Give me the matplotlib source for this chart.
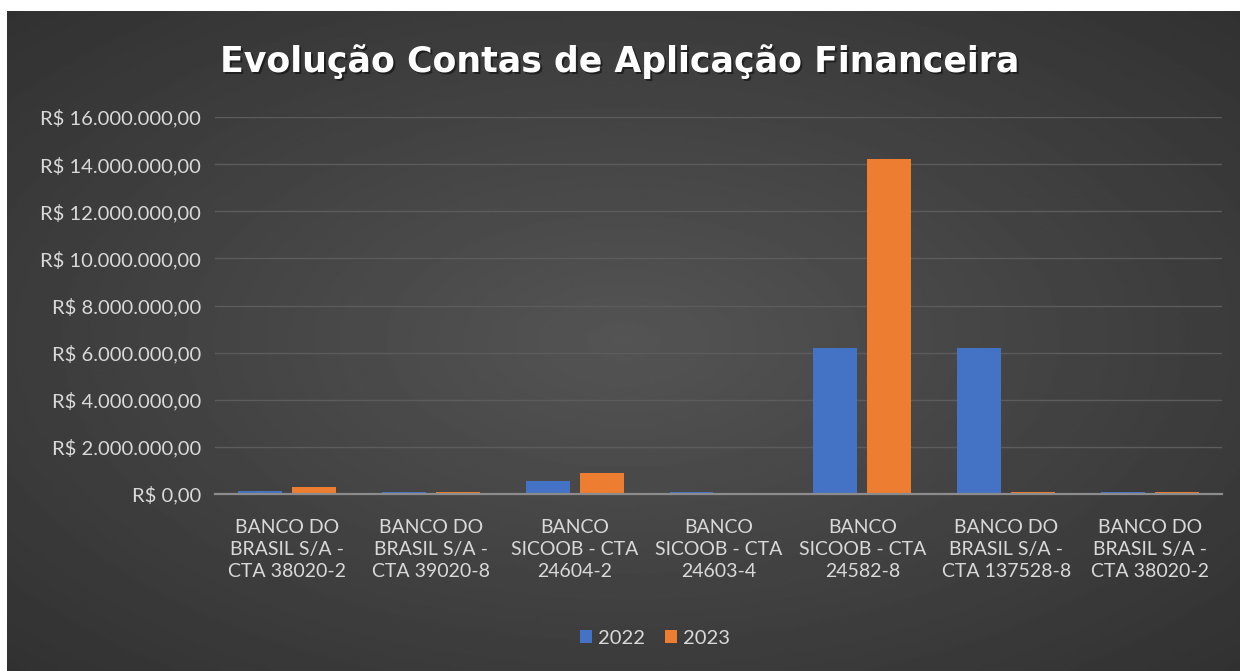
import numpy as np
import matplotlib
matplotlib.use("Agg")
import matplotlib.pyplot as plt
from matplotlib.ticker import FuncFormatter
from matplotlib.transforms import ScaledTranslation

categories = ["BANCO DO\nBRASIL S/A -\nCTA 38020-2",
              "BANCO DO\nBRASIL S/A -\nCTA 39020-8",
              "BANCO\nSICOOB - CTA\n24604-2",
              "BANCO\nSICOOB - CTA\n24603-4",
              "BANCO\nSICOOB - CTA\n24582-8",
              "BANCO DO\nBRASIL S/A -\nCTA 137528-8",
              "BANCO DO\nBRASIL S/A -\nCTA 38020-2"]
v2022 = [110000, 90000, 570000, 90000, 6210000, 6210000, 100000]
v2023 = [290000, 90000, 880000, 0, 14200000, 100000, 100000]
series_names = ["2022", "2023"]
yticks = np.arange(0, 16000001, 2000000)

blue = "#4472C4"
orange = "#ED7D31"
txt = "#d9d9d9"
font = ["Lato", "DejaVu Sans"]

def brl(v, pos=None):
    s = f"{v:,.2f}".replace(",", "X").replace(".", ",").replace("X", ".")
    return "R$ " + s

fig = plt.figure(figsize=(12.4, 6.71), dpi=100)
fig.patch.set_facecolor("white")

# dark radial background of the chart area
bg = fig.add_axes([7 / 1240, 0, 1233 / 1240, 660 / 671])
yy, xx = np.mgrid[-1:1:300j, -1:1:500j]
r = np.sqrt((xx * 0.9) ** 2 + (yy * 0.9) ** 2)
bg.imshow(0.33 - 0.15 * np.clip(r, 0, 1.4) / 1.4, cmap="gray", vmin=0, vmax=1,
          aspect="auto", extent=[0, 1, 0, 1], interpolation="bilinear")
bg.set_axis_off()

ax = fig.add_axes([215 / 1240, 1 - 494 / 671, 1007 / 1240, 377 / 671])
ax.patch.set_alpha(0)
x = np.arange(len(categories))
w = 0.305
ax.bar(x - 0.1875, v2022, w, color=blue, label=series_names[0], zorder=3)
ax.bar(x + 0.1875, v2023, w, color=orange, label=series_names[1], zorder=3)

ax.set_xlim(-0.5, len(categories) - 0.5)
ax.set_ylim(0, 16000000)
ax.set_yticks(yticks)
ax.yaxis.set_major_formatter(FuncFormatter(brl))
ax.grid(axis="y", color="#5c5c5c", linewidth=1, zorder=0)
for s in ["top", "right", "left"]:
    ax.spines[s].set_visible(False)
ax.spines["bottom"].set_color("#8c8c8c")
ax.spines["bottom"].set_linewidth(1.6)
ax.spines["bottom"].set_zorder(4)
ax.tick_params(length=0)
ax.tick_params(axis="y", colors=txt, labelsize=14.5, pad=10)
ax.tick_params(axis="x", colors=txt, labelsize=14, pad=18)
ax.set_xticks(x)
ax.set_xticklabels(categories, linespacing=1.35)
for lab in ax.get_xticklabels() + ax.get_yticklabels():
    lab.set_fontfamily(font)

title = "Evolução Contas de Aplicação Financeira"
ty = 1 - 62 / 671
fig.text(0.5, ty, title, color="#151515", fontsize=25, fontweight="bold",
         ha="center", va="center", family="DejaVu Sans", alpha=0.7,
         transform=fig.transFigure + ScaledTranslation(1.5 / 100, -2 / 100, fig.dpi_scale_trans))
fig.text(0.5, ty, title, color="white", fontsize=25, fontweight="bold",
         ha="center", va="center", family="DejaVu Sans")

leg = fig.legend(loc="center", bbox_to_anchor=(655 / 1240, 1 - 638 / 671), ncol=2,
                 frameon=False, handlelength=0.6, handleheight=0.6, handletextpad=0.3,
                 columnspacing=1.0, prop={"family": font, "size": 14.5})
for t in leg.get_texts():
    t.set_color(txt)

fig.savefig("out.png", dpi=100)
